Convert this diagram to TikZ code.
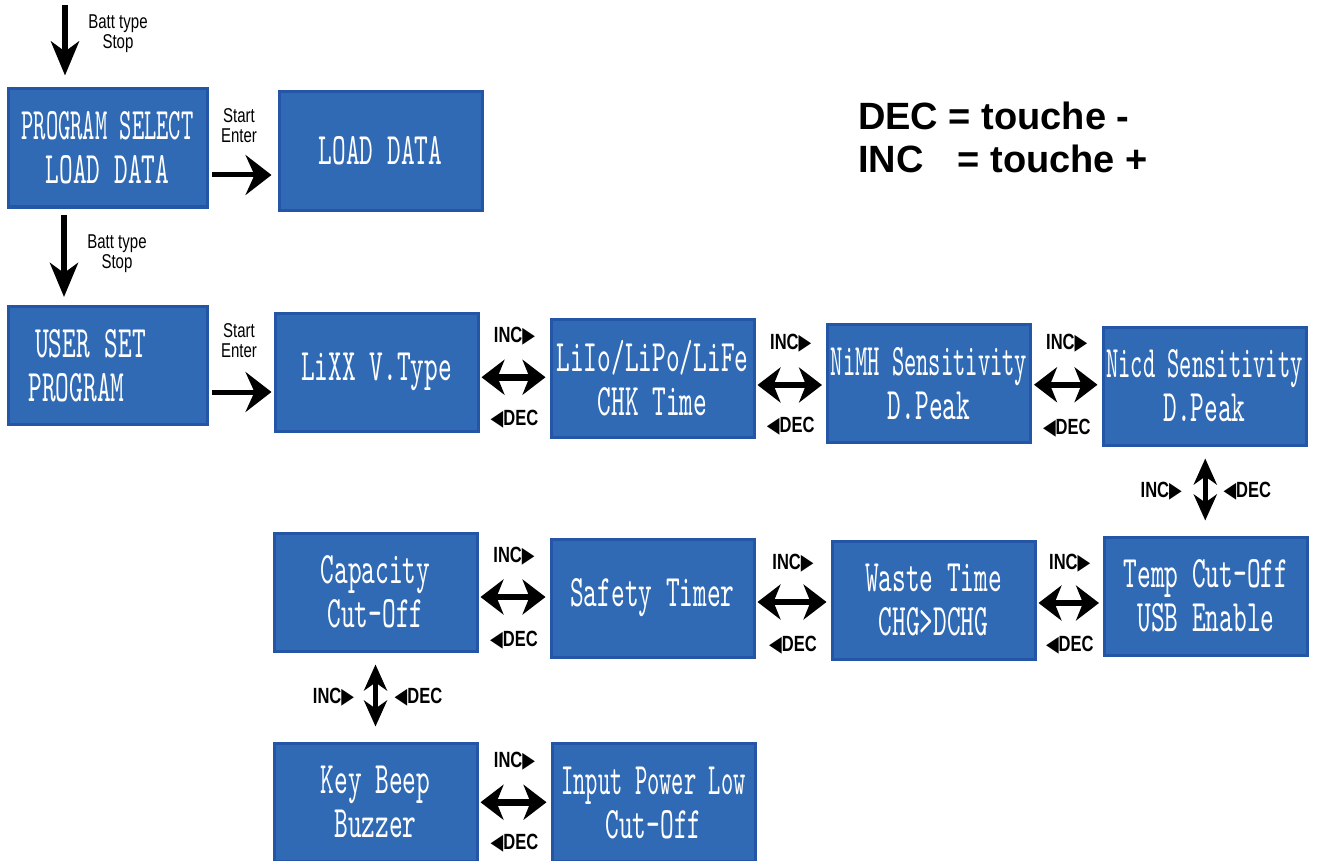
\documentclass[tikz,border=0pt]{standalone}
\usepackage{fontspec}
\usetikzlibrary{arrows.meta,calc}

\newfontfamily\boxfont{lmmono10-regular.otf}[FakeStretch=0.58]
\newfontfamily\boxfontn{lmmono10-regular.otf}[FakeStretch=0.52]
\newfontfamily\labfont{Liberation Sans}[FakeStretch=0.75]
\newfontfamily\trifont{DejaVu Sans}[FakeStretch=0.75]
\newfontfamily\legfont{Liberation Sans}
\definecolor{boxblue}{RGB}{48,106,181}
\definecolor{boxedge}{RGB}{36,85,166}
\newcommand{\inctxt}{INC{\trifont ▶}}
\newcommand{\dectxt}{{\trifont ◀}DEC}

\begin{document}
\begin{tikzpicture}[x=1pt, y=-1pt,
    screen/.style={draw=boxedge, line width=3pt, fill=boxblue, text=white,
      minimum width=203pt, minimum height=118pt, inner sep=0pt, align=center,
      font=\boxfont\fontsize{45pt}{44pt}\selectfont},
    lab/.style={inner sep=0pt, align=center, font=\labfont\fontsize{20pt}{20pt}\selectfont},
    btn/.style={inner sep=0pt, font=\labfont\bfseries\fontsize{22pt}{22pt}\selectfont},
    downarr/.style={line width=6pt, -{Stealth[length=34pt, width=28pt, inset=10pt]}},
    enterarr/.style={line width=5pt, -{Stealth[length=26pt, width=40pt, inset=9pt]}},
    incdec/.style={line width=6.5pt,
      {Stealth[length=23pt, width=35pt, inset=7pt]}-{Stealth[length=23pt, width=35pt, inset=7pt]},
      shorten <=2pt, shorten >=4pt},
    incdecv/.style={line width=4.5pt,
      {Stealth[length=26pt, width=23pt, inset=8pt]}-{Stealth[length=26pt, width=23pt, inset=8pt]},
      shorten <=12pt, shorten >=15pt}]
        \useasboundingbox (0,0) rectangle (1319,861);

        \node[screen, minimum width=199pt] (1) at (107.5,148) {{\boxfontn PROGRAM SELECT}\\LOAD DATA};
        \node[screen] (2) at (380.5,151) {LOAD DATA};
        \node[screen, minimum width=199pt, text width=158pt, align=left] (3) at (107.5,365.5) {\hspace*{6.5pt}USER SET\\PROGRAM};
        \node[screen] (4) at (376.5,372) {LiXX V.Type};
        \node[screen] (5) at (652.5,378.5) {LiIo/LiPo/LiFe\\CHK Time};
        \node[screen] (6) at (929,383.5) {{\boxfontn NiMH Sensitivity}\\D.Peak};
        \node[screen] (7) at (1204.5,386) {{\boxfontn Nicd Sensitivity}\\D.Peak};
        \node[screen] (8) at (1206,596) {Temp Cut-Off\\USB Enable};
        \node[screen] (9) at (933.5,600) {Waste Time\\CHG>DCHG};
        \node[screen] (10) at (652.5,598) {Safety Timer};
        \node[screen] (11) at (375.5,592) {Capacity\\Cut-Off};
        \node[screen] (12) at (375.5,802) {Key Beep\\Buzzer};
        \node[screen] (13) at (653.5,802.5) {{\boxfontn Input Power Low}\\Cut-Off};

        % legend
        \node[anchor=base west, inner sep=0pt, font=\legfont\bfseries\fontsize{38pt}{38pt}\selectfont] (leg1) at (858,130) {DEC = touche -};
        \node[anchor=base west, inner sep=0pt, font=\legfont\bfseries\fontsize{38pt}{38pt}\selectfont] (leg2) at (858,173) {INC\hspace{34pt}= touche +};

        % batt type / start enter
        \coordinate (in) at (65,5);
        \draw[downarr, shorten >=12pt] (in) -- (in |- 1.north);
        \node[lab] (bt1) at (118,34) {Batt type\\Stop};
        \draw[downarr, shorten <=6pt, shorten >=8pt] ([xshift=-43.5pt]1.south) -- ([xshift=-43.5pt]3.north);
        \node[lab] (bt2) at (117,254) {Batt type\\Stop};
        \draw[enterarr, shorten <=3pt, shorten >=6pt] ([yshift=-27pt]1.east) -- ([yshift=-27pt]1.east -| 2.west);
        \node[lab] (se1) at (239,126) {Start\\Enter};
        \draw[enterarr, shorten <=3pt, shorten >=2pt] ([yshift=-26.5pt]3.east) -- ([yshift=-26.5pt]3.east -| 4.west);
        \node[lab] (se2) at (239,341) {Start\\Enter};

        % INC / DEC
        \coordinate (m1) at ($(4.east)!0.5!(5.west)+(0,2)$);
        \draw[incdec] (4.east |- m1) -- (5.west |- m1);
        \node[btn] (inc1) at ([yshift=41pt]m1) {\inctxt};
        \node[btn] (dec1) at ([yshift=-42pt]m1) {\dectxt};

        \coordinate (m2) at ($(5.east)!0.5!(6.west)+(0,4)$);
        \draw[incdec] (5.east |- m2) -- (6.west |- m2);
        \node[btn] (inc2) at ([yshift=42pt]m2) {\inctxt};
        \node[btn] (dec2) at ([yshift=-41pt]m2) {\dectxt};

        \coordinate (m3) at ($(6.east)!0.5!(7.west)$);
        \draw[incdec] (6.east |- m3) -- (7.west |- m3);
        \node[btn] (inc3) at ([yshift=42pt]m3) {\inctxt};
        \node[btn] (dec3) at ([yshift=-43pt]m3) {\dectxt};

        \coordinate (v1) at ($(7.south)!0.5!(8.north)$);
        \draw[incdecv] (7.south -| v1) -- (8.north -| v1);
        \node[btn] (inc4) at ([xshift=-44pt]v1) {\inctxt};
        \node[btn] (dec4) at ([xshift=42pt]v1) {\dectxt};

        \coordinate (m5) at ($(9.east)!0.5!(8.west)+(0,5)$);
        \draw[incdec] (9.east |- m5) -- (8.west |- m5);
        \node[btn] (inc5) at ([yshift=40pt]m5) {\inctxt};
        \node[btn] (dec5) at ([yshift=-42pt]m5) {\dectxt};

        \coordinate (m6) at ($(10.east)!0.5!(9.west)+(0,3)$);
        \draw[incdec] (10.east |- m6) -- (9.west |- m6);
        \node[btn] (inc6) at ([yshift=39pt]m6) {\inctxt};
        \node[btn] (dec6) at ([yshift=-43pt]m6) {\dectxt};

        \coordinate (m7) at ($(11.east)!0.5!(10.west)+(0,2)$);
        \draw[incdec] (11.east |- m7) -- (10.west |- m7);
        \node[btn] (inc7) at ([yshift=41pt]m7) {\inctxt};
        \node[btn] (dec7) at ([yshift=-43pt]m7) {\dectxt};

        \coordinate (v2) at ($(11.south)!0.5!(12.north)$);
        \draw[incdecv] (11.south -| v2) -- (12.north -| v2);
        \node[btn] (inc8) at ([xshift=-42pt]v2) {\inctxt};
        \node[btn] (dec8) at ([xshift=43pt]v2) {\dectxt};

        \coordinate (m9) at ($(12.east)!0.5!(13.west)$);
        \draw[incdec] (12.east |- m9) -- (13.west |- m9);
        \node[btn] (inc9) at ([yshift=41pt]m9) {\inctxt};
        \node[btn] (dec9) at ([yshift=-41pt]m9) {\dectxt};
    \end{tikzpicture}
\end{document}
